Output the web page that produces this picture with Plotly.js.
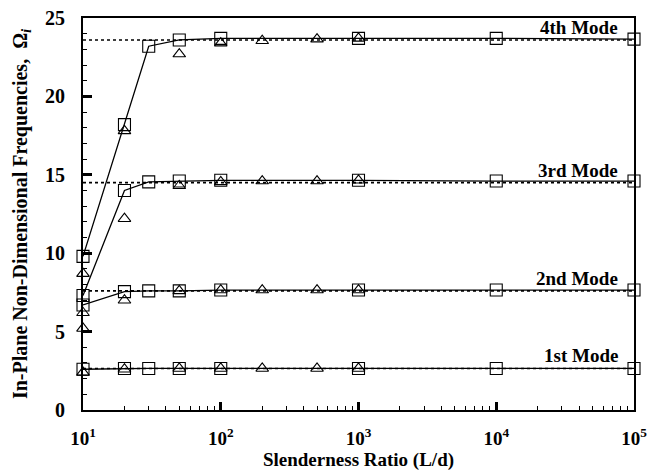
<!DOCTYPE html>
<html>
<head>
<meta charset="utf-8">
<script src="https://cdn.plot.ly/plotly-3.0.1.min.js"></script>
<style>html,body{margin:0;padding:0;background:#fff;}#chart{width:651px;height:474px;}</style>
</head>
<body>
<div id="chart"></div>
<script>
// Slenderness ratios
const xSquares = [10, 20, 30, 50, 100, 1000, 10000, 100000];
const xTriangles = [10, 20, 50, 100, 200, 500, 1000];
const xAsymptote = [10, 100000];

// Square markers (solid line) per mode
const mode1Squares = [2.6, 2.65, 2.65, 2.65, 2.65, 2.65, 2.65, 2.65];
const mode2Squares = [6.7, 7.55, 7.6, 7.6, 7.65, 7.65, 7.65, 7.65];
const mode3Squares = [7.3, 14.0, 14.55, 14.6, 14.65, 14.65, 14.6, 14.6];
const mode4Squares = [9.8, 18.2, 23.2, 23.6, 23.7, 23.7, 23.7, 23.65];

// Triangle markers per mode
const mode1Triangles = [2.4, 2.6, 2.65, 2.65, 2.65, 2.65, 2.65];
const mode2Triangles = [5.2, 7.0, 7.6, 7.65, 7.65, 7.65, 7.65];
const mode3Triangles = [6.2, 12.2, 14.3, 14.55, 14.6, 14.6, 14.65];
const mode4Triangles = [8.7, 17.8, 22.7, 23.4, 23.55, 23.65, 23.7];

// Asymptotic (dotted) values
const asymptotes = [2.65, 7.6, 14.5, 23.6];
const modeLabels = ["1st Mode", "2nd Mode", "3rd Mode", "4th Mode"];

const xTickVals = [10, 100, 1000, 10000, 100000];
const xTickText = ["<b>10<sup>1</sup></b>", "<b>10<sup>2</sup></b>", "<b>10<sup>3</sup></b>", "<b>10<sup>4</sup></b>", "<b>10<sup>5</sup></b>"];
const yTickVals = [0, 5, 10, 15, 20, 25];
const yTickText = ["<b>0</b>", "<b>5</b>", "<b>10</b>", "<b>15</b>", "<b>20</b>", "<b>25</b>"];

const FONT = "Liberation Serif, Times New Roman, serif";
const traces = [];
const sq = [mode1Squares, mode2Squares, mode3Squares, mode4Squares];
const tr = [mode1Triangles, mode2Triangles, mode3Triangles, mode4Triangles];

asymptotes.forEach(v => {
  traces.push({x: xAsymptote, y: [v, v], mode: 'lines', type: 'scatter',
    line: {color: '#000', width: 1.6, dash: 'dot'}, hoverinfo: 'skip', cliponaxis: false});
});
sq.forEach(ys => {
  traces.push({x: xSquares, y: ys, mode: 'lines+markers', type: 'scatter',
    line: {color: '#000', width: 1.3},
    marker: {symbol: 'square-open', size: 12, color: '#000', line: {width: 1.1}},
    cliponaxis: false});
});
tr.forEach(ys => {
  traces.push({x: xTriangles, y: ys, mode: 'markers', type: 'scatter',
    marker: {symbol: 'triangle-up-open', size: 11, color: '#000', line: {width: 1.1}},
    cliponaxis: false});
});

const annotations = asymptotes.map((v, i) => ({
  x: 0.975, xref: 'paper', y: v, yref: 'y', xanchor: 'right', yanchor: 'bottom',
  yshift: 0, text: '<b>' + modeLabels[i] + '</b>', showarrow: false,
  font: {family: FONT, size: 19, color: '#000'}
}));

const layout = {
  width: 651, height: 474,
  margin: {l: 83, r: 17, t: 18, b: 64},
  paper_bgcolor: '#fff', plot_bgcolor: '#fff',
  showlegend: false,
  font: {family: FONT, color: '#000'},
  xaxis: {
    type: 'log', range: [1, 5],
    tickvals: xTickVals, ticktext: xTickText,
    ticks: 'inside', ticklen: 8, tickwidth: 3, tickcolor: '#000',
    minor: {ticks: 'inside', ticklen: 4, tickwidth: 1, tickcolor: '#000', dtick: 'D1'},
    showgrid: false, zeroline: false,
    showline: true, linecolor: '#000', linewidth: 2, mirror: true,
    ticklabelstandoff: 10,
    tickfont: {family: FONT, size: 19, color: '#000'},
    title: {text: '<b>Slenderness Ratio (L/d)</b>', font: {family: FONT, size: 19, color: '#000'}, standoff: 4}
  },
  yaxis: {
    range: [0, 25],
    tickvals: yTickVals, ticktext: yTickText,
    ticks: 'inside', ticklen: 9, tickwidth: 3, tickcolor: '#000',
    minor: {ticks: 'inside', ticklen: 4, tickwidth: 1, tickcolor: '#000', dtick: 1},
    showgrid: false, zeroline: false,
    showline: true, linecolor: '#000', linewidth: 2, mirror: true,
    ticklabelstandoff: 12,
    tickfont: {family: FONT, size: 20, color: '#000'},
    title: {text: '<b>In-Plane Non-Dimensional Frequencies,  Ω<sub><i>i</i></sub></b>', font: {family: FONT, size: 20, color: '#000'}, standoff: 12}
  },
  annotations: annotations
};

Plotly.newPlot('chart', traces, layout, {displayModeBar: false, staticPlot: true});
</script>
</body>
</html>
